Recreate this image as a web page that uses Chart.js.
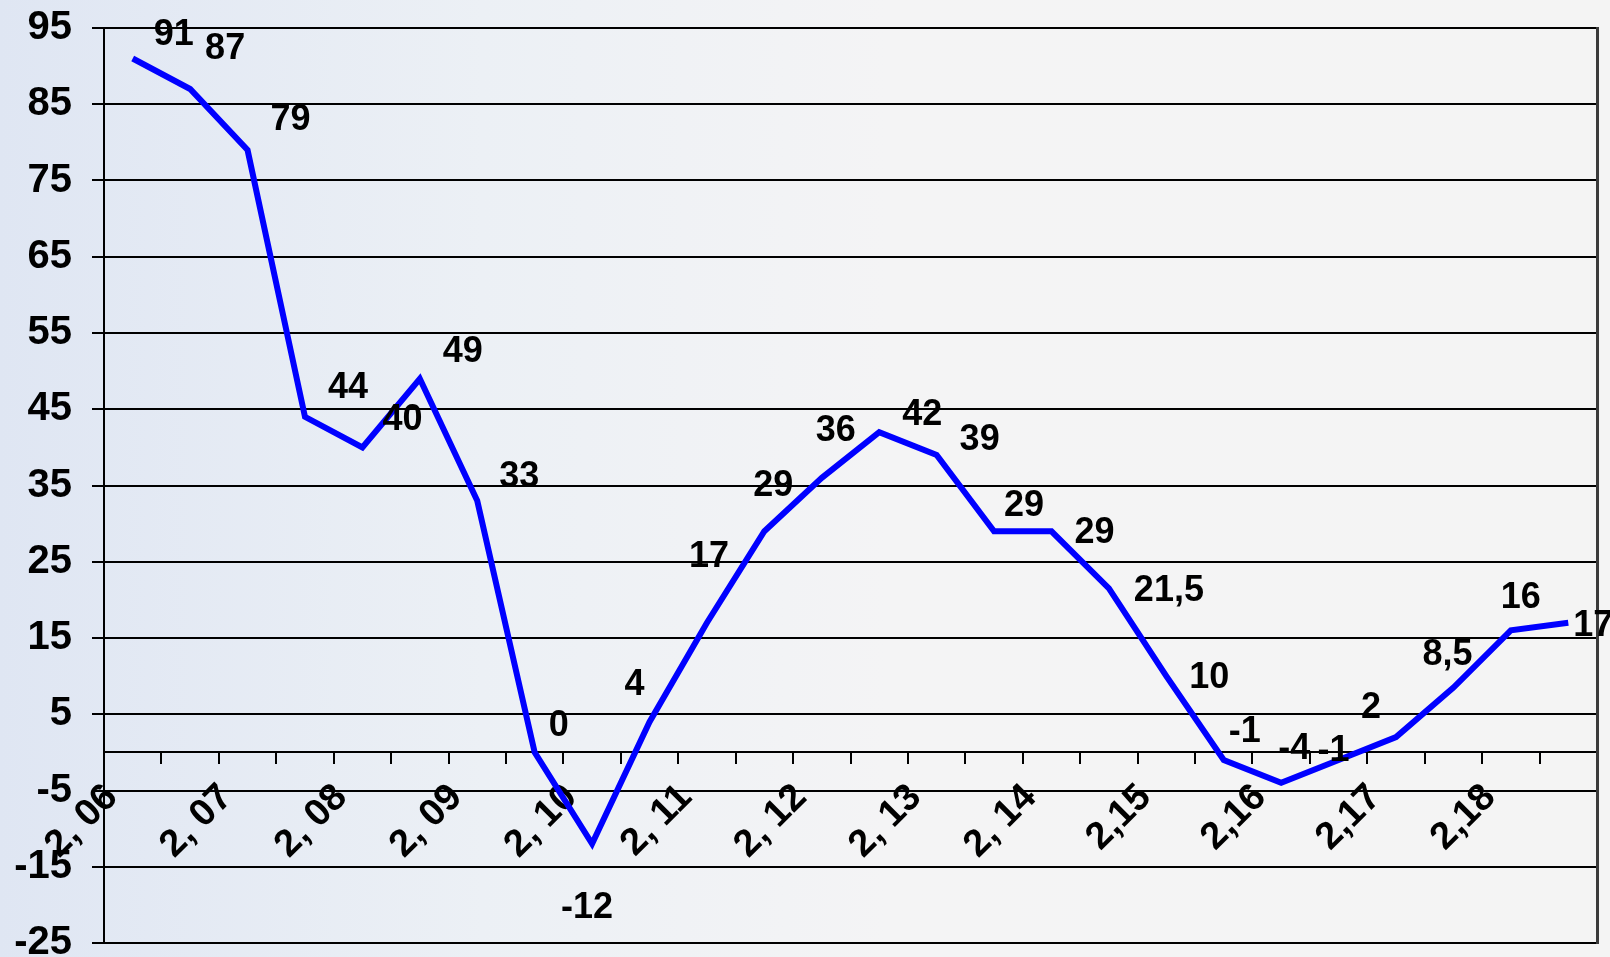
<!DOCTYPE html>
<html>
<head>
<meta charset="utf-8">
<script src="https://cdn.jsdelivr.net/npm/chart.js@4.4.1/dist/chart.umd.min.js"></script>
<style>
  html, body { margin: 0; padding: 0; }
  body {
    width: 1610px; height: 957px; overflow: hidden;
    background: linear-gradient(to right, #dfe6f3 0%, #ecf0f5 30%, #f4f4f5 55%, #f4f4f4 100%);
  }
  #wrap { position: absolute; left: 0; top: 0; width: 1610px; height: 957px; }
</style>
</head>
<body>
<div id="wrap"><canvas id="c" width="1610" height="957"></canvas></div>
<script>
// ---- data ----
const categories = ["2, 06","","2, 07","","2, 08","","2, 09","","2, 10","","2, 11","","2, 12","",
                    "2, 13","","2, 14","","2,15","","2,16","","2,17","","2,18",""];
const values = [91, 87, 79, 44, 40, 49, 33, 0, -12, 4, 17, 29, 36, 42, 39, 29, 29, 21.5, 10, -1, -4, -1, 2, 8.5, 16, 17];
const valueLabels = ["91","87","79","44","40","49","33","0","-12","4","17","29","36","42","39","29","29","21,5","10","-1","-4","-1","2","8,5","16","17"];
const yTicks = [-25, -15, -5, 5, 15, 25, 35, 45, 55, 65, 75, 85, 95];

// label placement (pixel offsets from each point, style only)
const labelOffsets = [
  [41,-23],[35,-40],[43,-30],[43,-29],[40,-27],[43,-27],[42,-24],[24,-26],
  [-5,64],[-15,-37],[2,-66],[9,-45],[14,-47],[43,-17],[43,-15],[30,-25],
  [43,2],[60,3],[43,2],[21,-28],[13,-34],[-5,-9],[-25,-29],[-6,-32],[10,-32],[25,3]
];

const FONT = "'Liberation Sans', Arial, Helvetica, sans-serif";

const valueLabelPlugin = {
  id: 'valueLabels',
  afterDatasetsDraw(chart) {
    const ctx = chart.ctx;
    const meta = chart.getDatasetMeta(0);
    ctx.save();
    ctx.font = "bold 36px " + FONT;
    ctx.fillStyle = "#000";
    ctx.textAlign = "center";
    ctx.textBaseline = "middle";
    meta.data.forEach((pt, i) => {
      const o = labelOffsets[i] || [0, 0];
      ctx.fillText(valueLabels[i], pt.x + o[0], pt.y + o[1]);
    });
    ctx.restore();
  }
};

new Chart(document.getElementById('c'), {
  type: 'line',
  data: {
    labels: categories,
    datasets: [{
      data: values,
      borderColor: '#0000ff',
      borderWidth: 6,
      pointRadius: 0,
      tension: 0,
      fill: false,
      clip: false
    }]
  },
  options: {
    responsive: false,
    devicePixelRatio: 1,
    animation: false,
    layout: { padding: { left: 8, right: 13, top: 28, bottom: 14 } },
    plugins: { legend: { display: false }, tooltip: { enabled: false } },
    scales: {
      x: {
        type: 'category',
        position: { y: 0 },
        offset: true,
        afterFit(scale) { scale.paddingLeft = 0; scale.paddingRight = 0; scale.paddingTop = 0; scale.paddingBottom = 0; },
        grid: {
          offset: true,
          drawOnChartArea: false,
          drawTicks: true,
          tickLength: 11,
          color: '#000',
          lineWidth: 2
        },
        border: { display: true, color: '#000', width: 2 },
        ticks: {
          autoSkip: false,
          maxRotation: 45,
          minRotation: 45,
          padding: 12,
          labelOffset: -21,
          color: '#000',
          font: { family: FONT, size: 38, weight: 'bold' }
        }
      },
      y: {
        type: 'linear',
        position: 'left',
        min: -25,
        max: 95,
        afterBuildTicks(scale) { scale.ticks = yTicks.map(v => ({ value: v })); },
        afterFit(scale) { scale.width = 96; scale.paddingTop = 0; scale.paddingBottom = 0; },
        grid: {
          color: '#000',
          lineWidth: 2,
          drawTicks: true,
          tickLength: 12
        },
        border: { display: true, color: '#000', width: 2 },
        ticks: {
          padding: 20,
          color: '#000',
          font: { family: FONT, size: 40, weight: 'bold' }
        }
      },
      y2: {
        type: 'linear',
        position: 'right',
        min: -25,
        max: 95,
        afterFit(scale) { scale.width = 0; scale.paddingTop = 0; scale.paddingBottom = 0; },
        grid: { display: false, drawTicks: false },
        border: { display: true, color: '#3a3a3a', width: 3 },
        ticks: { display: false }
      }
    }
  },
  plugins: [valueLabelPlugin]
});
</script>
</body>
</html>
